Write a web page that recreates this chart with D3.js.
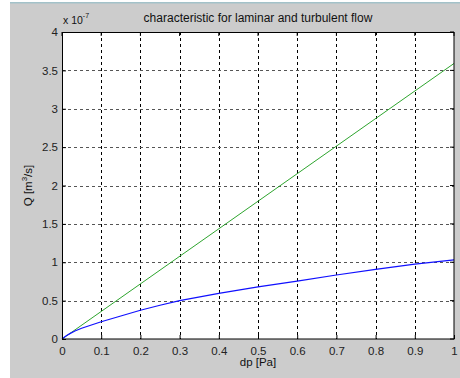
<!DOCTYPE html>
<html>
<head>
<meta charset="utf-8">
<script src="https://cdn.jsdelivr.net/npm/d3@7"></script>
<style>
  html, body { margin: 0; padding: 0; background: #fff; }
  svg { display: block; font-family: "Liberation Sans", Arial, sans-serif; }
</style>
</head>
<body>
<div id="chart"></div>
<script>
// -----------------------------
// Data (Q in units of 1e-7 m^3/s)
// -----------------------------
const xTicks = [0, 0.1, 0.2, 0.3, 0.4, 0.5, 0.6, 0.7, 0.8, 0.9, 1];
const yTicks = [0, 0.5, 1, 1.5, 2, 2.5, 3, 3.5, 4];

const laminarDp = [0, 1];
const laminarQ = [0, 3.59];

const turbulentDp = [0, 0.01, 0.02, 0.033, 0.05, 0.1, 0.15, 0.2, 0.25, 0.3, 0.4, 0.5, 0.6, 0.7, 0.8, 0.9, 1];
const turbulentQ = [0, 0.04, 0.07, 0.105, 0.14, 0.225, 0.30, 0.375, 0.44, 0.50, 0.595, 0.68, 0.755, 0.834, 0.906, 0.975, 1.03];

// -----------------------------
// Layout
// -----------------------------
const width = 460, height = 378;
const margin = { left: 62, top: 32, right: 6, bottom: 39 };
const plotW = width - margin.left - margin.right;
const plotH = height - margin.top - margin.bottom;

const svg = d3.select("#chart").append("svg")
  .attr("width", width)
  .attr("height", height);

// figure background
svg.append("rect")
  .attr("x", 10).attr("y", 2)
  .attr("width", width - 10).attr("height", height - 2)
  .attr("fill", "#cccccc");
svg.append("rect")
  .attr("x", 10).attr("y", 2)
  .attr("width", width - 10).attr("height", 1.5)
  .attr("fill", "#a3c2c9");

const x = d3.scaleLinear().domain([0, 1]).range([0, plotW]);
const y = d3.scaleLinear().domain([0, 4]).range([plotH, 0]);

const g = svg.append("g")
  .attr("transform", `translate(${margin.left},${margin.top})`);

g.append("rect")
  .attr("width", plotW).attr("height", plotH)
  .attr("fill", "#fff");

// -----------------------------
// Grid
// -----------------------------
g.selectAll("line.vgrid")
  .data(xTicks.slice(1, -1))
  .join("line")
  .attr("x1", d => Math.round(x(d)) + 0.5).attr("x2", d => Math.round(x(d)) + 0.5)
  .attr("y1", 0).attr("y2", plotH)
  .attr("stroke", "#000")
  .attr("stroke-dasharray", "3,3");

g.selectAll("line.hgrid")
  .data(yTicks.slice(1, -1))
  .join("line")
  .attr("y1", d => Math.round(y(d)) + 0.5).attr("y2", d => Math.round(y(d)) + 0.5)
  .attr("x1", 0).attr("x2", plotW)
  .attr("stroke", "#555")
  .attr("stroke-dasharray", "3,3");

// -----------------------------
// Lines
// -----------------------------
const line = d3.line().x(d => x(d[0])).y(d => y(d[1]));

g.append("path")
  .datum(laminarDp.map((d, i) => [d, laminarQ[i]]))
  .attr("d", line)
  .attr("fill", "none")
  .attr("stroke", "#2ea52e")
  .attr("stroke-width", 1);

g.append("path")
  .datum(turbulentDp.map((d, i) => [d, turbulentQ[i]]))
  .attr("d", line)
  .attr("fill", "none")
  .attr("stroke", "#1010ff")
  .attr("stroke-width", 1.2);

// -----------------------------
// Axes
// -----------------------------
const xAxis = g.append("g")
  .attr("transform", `translate(0,${plotH})`)
  .call(d3.axisBottom(x).tickValues(xTicks).tickSize(-4).tickPadding(8)
    .tickFormat(d3.format("~g")));
const yAxis = g.append("g")
  .call(d3.axisLeft(y).tickValues(yTicks).tickSize(-4).tickPadding(4)
    .tickFormat(d3.format("~g")));

[xAxis, yAxis].forEach(a => {
  a.select(".domain").remove();
  a.selectAll("line").attr("stroke", "#000");
  a.selectAll("text")
    .attr("fill", "#222")
    .style("font-size", "11.5px")
    .style("font-family", "'Liberation Sans', Arial, sans-serif");
});

// right/top ticks like MATLAB box
g.selectAll("line.rtick")
  .data(yTicks)
  .join("line")
  .attr("x1", plotW).attr("x2", plotW - 4)
  .attr("y1", d => y(d)).attr("y2", d => y(d))
  .attr("stroke", "#000");
g.selectAll("line.ttick")
  .data(xTicks)
  .join("line")
  .attr("y1", 0).attr("y2", 4)
  .attr("x1", d => x(d)).attr("x2", d => x(d))
  .attr("stroke", "#000");

// frame
g.append("rect")
  .attr("x", 0.5).attr("y", 0.5)
  .attr("width", plotW - 0.5).attr("height", plotH - 0.5)
  .attr("fill", "none")
  .attr("stroke", "#000");

// -----------------------------
// Labels
// -----------------------------
svg.append("text")
  .attr("x", margin.left + plotW / 2)
  .attr("y", 22)
  .attr("text-anchor", "middle")
  .style("font-size", "12px")
  .attr("fill", "#111")
  .text("characteristic for laminar and turbulent flow");

const expo = svg.append("text")
  .attr("x", 63)
  .attr("y", 24)
  .style("font-size", "10.5px")
  .attr("fill", "#111");
expo.append("tspan").text("x 10");
expo.append("tspan").attr("dy", -6).style("font-size", "7px").text("-7");

svg.append("text")
  .attr("x", margin.left + plotW / 2)
  .attr("y", 366)
  .attr("text-anchor", "middle")
  .style("font-size", "11.5px")
  .attr("fill", "#111")
  .text("dp [Pa]");

const yl = svg.append("text")
  .attr("transform", `translate(32,${margin.top + plotH / 2}) rotate(-90)`)
  .attr("text-anchor", "middle")
  .style("font-size", "11.5px")
  .attr("fill", "#111");
yl.append("tspan").text("Q [m");
yl.append("tspan").attr("dy", -5).style("font-size", "8px").text("3");
yl.append("tspan").attr("dy", 5).text("/s]");
</script>
</body>
</html>
